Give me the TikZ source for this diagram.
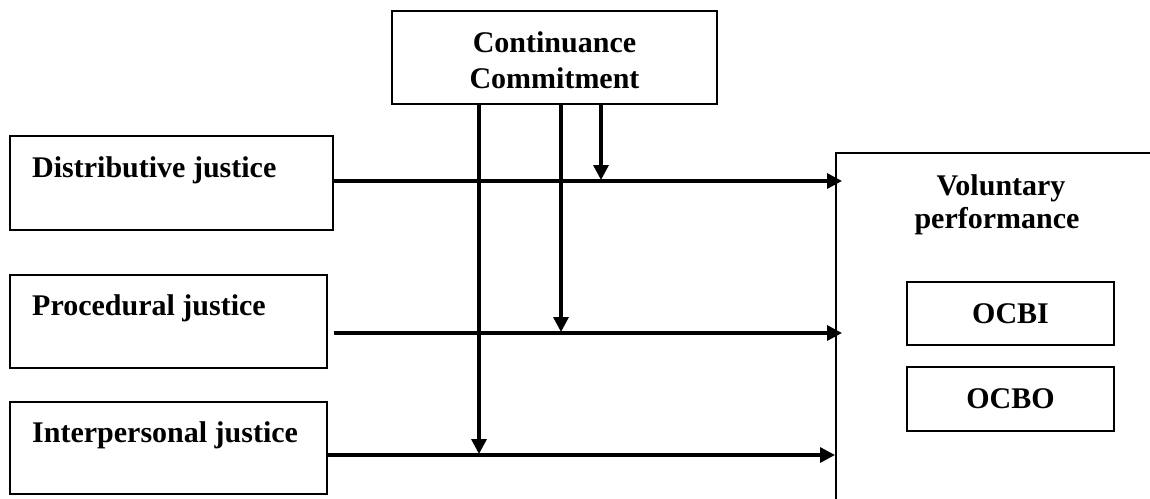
\documentclass[tikz,border=0pt]{standalone}
\usepackage{fontspec}
\setmainfont{Liberation Serif}
\usetikzlibrary{arrows.meta}
\begin{document}
\begin{tikzpicture}[x=1pt,y=-1pt,
  box/.style={draw,line width=2.4pt,inner sep=0pt,anchor=center},
  txt/.style={font=\fontsize{30}{35}\selectfont\bfseries,inner sep=0pt},
  conn/.style={line width=3.3pt,-{Triangle[width=15pt,length=15pt]}}]
\useasboundingbox (0,0) rectangle (1150,498);
% boxes
\node[box,minimum width=323pt,minimum height=94pt] (dj) at (171.5,183) {};
\node[box,minimum width=317pt,minimum height=93pt] (pj) at (168.5,321.5) {};
\node[box,minimum width=317pt,minimum height=92pt] (ij) at (168.5,448) {};
\node[box,minimum width=325pt,minimum height=93pt] (cc) at (554.5,57.5) {};
\node[box,minimum width=207pt,minimum height=63pt] (ocbi) at (1010.5,313.5) {};
\node[box,minimum width=207pt,minimum height=64pt] (ocbo) at (1010.5,399) {};
% texts
\node[txt,anchor=base west] (djt) at (32,177) {Distributive justice};
\node[txt,anchor=base west] (pjt) at (32,315) {Procedural justice};
\node[txt,anchor=base west] (ijt) at (32,442) {Interpersonal justice};
\node[txt,anchor=base] (cct1) at (554.5,52) {Continuance};
\node[txt,anchor=base] (cct2) at (554.5,88) {Commitment};
\node[txt,anchor=base] (vpt1) at (1001,195) {Voluntary};
\node[txt,anchor=base] (vpt2) at (997,228) {performance};
\node[txt] (ocbit) at (ocbi.center) {OCBI};
\node[txt] (ocbot) at (ocbo.center) {OCBO};
% open right box
\coordinate (vptl) at (836,153);
\draw[line width=2.4pt] (1152,153) -- (vptl) -- (836,500);
% horizontal connectors
\coordinate (e1) at (842,181);
\coordinate (e2) at (842,333);
\coordinate (e3) at (835,455);
\draw[conn] (dj.east |- e1) -- (e1);
\draw[conn] (334,333) -- (e2);
\draw[conn] (pj.east |- e3) -- (e3);
% vertical connectors from Continuance Commitment
\coordinate (m1) at (601,180);
\coordinate (m2) at (561,332);
\coordinate (m3) at (479,454);
\draw[conn] (cc.south -| m1) -- (m1);
\draw[conn] (cc.south -| m2) -- (m2);
\draw[conn] (cc.south -| m3) -- (m3);
\end{tikzpicture}
\end{document}
